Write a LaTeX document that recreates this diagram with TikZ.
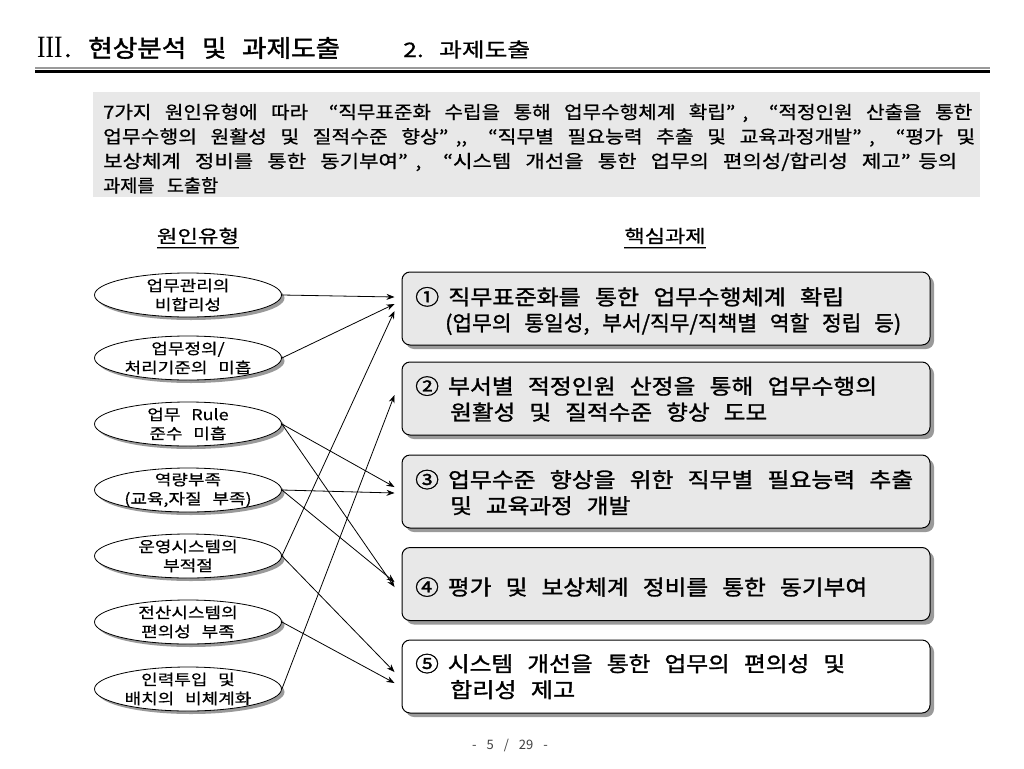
\documentclass[tikz,border=0pt]{standalone}
\usepackage{fontspec}
\setmainfont{Noto Sans CJK KR}
\newfontfamily\krell{Noto Sans CJK KR}[FakeBold=0.5]
\newfontfamily\krintro{Noto Sans CJK KR}[FakeBold=0.7]
\newfontfamily\krboxf{Noto Sans CJK KR}[FakeBold=1.3]
\newfontfamily\krsub{Noto Sans CJK KR}[FakeBold=0.8]
\newfontfamily\krhead{Noto Sans CJK KR}[FakeBold=1.5]
\newfontfamily\krheadb{Noto Sans CJK KR}[FakeBold=0.6]
\newfontfamily\krfoot{Noto Sans CJK KR}
\newfontfamily\romanf{Liberation Serif}
\usetikzlibrary{shapes.geometric,shadows,arrows.meta}
\definecolor{introgray}{HTML}{E8E8E8}
\definecolor{boxgray}{HTML}{E8E8E8}
\definecolor{shadowgray}{HTML}{9A9A9A}
% a line of text stretched horizontally to a given width, height kept
\newcommand\fitw[2]{\resizebox{#1}{\height}{#2}}
\newcommand\natl[2]{\scalebox{#1}[1]{#2}}
\newcommand\oq{\makebox[15pt][r]{“}}
\newcommand\cq{\makebox[15pt][l]{”}}
\newcommand\cnum[1]{\makebox[29pt][l]{#1}}
\newcommand\fntell{\krell\fontsize{15}{19}\selectfont\spaceskip 9pt\relax}
\newcommand\fntintro{\krintro\fontsize{18}{24.5}\selectfont\spaceskip 12pt\relax}
\newcommand\fntbox{\krboxf\fontsize{21}{26}\selectfont\spaceskip 12.5pt\relax}
\newcommand\fntsub{\krsub\fontsize{18}{20}\selectfont}
\newcommand\fnthead{\krhead\fontsize{24}{28}\selectfont\spaceskip 14pt\relax}
\newcommand\fntheadb{\krheadb\fontsize{20}{24}\selectfont\spaceskip 11pt\relax}
\newcommand\fntfoot{\krfoot\fontsize{13}{15}\selectfont\spaceskip 10pt\relax}
\tikzset{
  causeshape/.style={ellipse, draw=black, line width=0.8pt, fill=white, minimum width=187pt, minimum height=44pt, inner sep=0pt,
    drop shadow={shadow xshift=3pt, shadow yshift=-3pt, fill=shadowgray, opacity=1}},
  causetext/.style={align=center, inner sep=0pt, font=\fntell},
  taskbox/.style={rectangle, rounded corners=8pt, draw=black, line width=1pt, fill=boxgray, minimum width=528pt, minimum height=73pt, inner sep=0pt,
    drop shadow={shadow xshift=4pt, shadow yshift=-4pt, fill=shadowgray, opacity=1}},
  tasktext/.style={anchor=west, align=left, inner sep=0pt, font=\fntbox},
  conn/.style={draw=black, line width=0.8pt, -{Stealth[length=8pt,width=6pt]}},
  sub/.style={inner sep=0pt, font=\fntsub},
}
\begin{document}
\begin{tikzpicture}[x=1pt,y=-1pt]
\useasboundingbox[fill=white] (0,0) rectangle (1024,768);
% header
\node[anchor=base west, inner sep=0pt, font=\fnthead] (h1) at (37,57)
  {\makebox[51pt][l]{\scalebox{0.82}[1]{\romanf\fontsize{31}{31}\selectfont III}\kern2pt.}\fitw{252pt}{현상분석 및 과제도출}};
\node[anchor=base west, inner sep=0pt, font=\fntheadb] (h2) at (403,57) {\fitw{127pt}{2. 과제도출}};
\draw[shadowgray, line width=1.5pt] (35,68) -- (990,68);
\draw[black, line width=3.5pt] (35,71.5) -- (990,71.5);
% intro box
\node[anchor=north west, fill=introgray, minimum width=887pt, minimum height=105pt, inner sep=0pt] (intro) at (93,92) {};
\node[anchor=north west, align=left, inner sep=0pt, font=\fntintro] (introtext) at (103,103.5)
 {\fitw{869pt}{7가지 원인유형에 따라 \oq 직무표준화 수립을 통해 업무수행체계 확립\cq, \oq 적정인원 산출을 통한}\\
  \fitw{872pt}{업무수행의 원활성 및 질적수준 향상\cq,, \oq 직무별 필요능력 추출 및 교육과정개발\cq, \oq 평가 및}\\
  \fitw{854pt}{보상체계 정비를 통한 동기부여\cq, \oq 시스템 개선을 통한 업무의 편의성/합리성 제고\cq 등의}\\
  \fitw{115pt}{과제를 도출함}};
% subheadings
\node[sub] (hc) at (198,236) {\fitw{82pt}{원인유형}};
\node[sub] (ht) at (665,236) {\fitw{81pt}{핵심과제}};
\draw[shadowgray, line width=1pt] ([yshift=-12.5pt]hc.west) -- ([yshift=-12.5pt]hc.east);
\draw[black, line width=1pt] ([yshift=-11.5pt]hc.west) -- ([yshift=-11.5pt]hc.east);
\draw[shadowgray, line width=1pt] ([yshift=-12.5pt]ht.west) -- ([yshift=-12.5pt]ht.east);
\draw[black, line width=1pt] ([yshift=-11.5pt]ht.west) -- ([yshift=-11.5pt]ht.east);
% causes
\node[causeshape] (e1) at (188,295) {};
\node[causetext] (e1t) at (e1) {\natl{1.2}{업무관리의}\\\natl{1.2}{비합리성}};
\node[causeshape] (e2) at (188,358) {};
\node[causetext] (e2t) at (e2) {\natl{1.2}{업무정의/}\\\natl{1.2}{처리기준의 미흡}};
\node[causeshape] (e3) at (188,424) {};
\node[causetext] (e3t) at (e3) {\natl{1.2}{업무 Rule}\\\natl{1.2}{준수 미흡}};
\node[causeshape] (e4) at (188,490) {};
\node[causetext] (e4t) at (e4) {\natl{1.2}{역량부족}\\\natl{1.2}{(교육,자질 부족)}};
\node[causeshape] (e5) at (188,556) {};
\node[causetext] (e5t) at (e5) {\natl{1.2}{운영시스템의}\\\natl{1.2}{부적절}};
\node[causeshape] (e6) at (188,622) {};
\node[causetext] (e6t) at (e6) {\natl{1.2}{전산시스템의}\\\natl{1.2}{편의성 부족}};
\node[causeshape] (e7) at (188,689) {};
\node[causetext] (e7t) at (e7) {\natl{1.2}{인력투입 및}\\\natl{1.2}{배치의 비체계화}};
% tasks
\node[taskbox] (b1) at (666,308.5) {};
\node[tasktext] (b1t) at (415,311)
  {\fitw{429pt}{\cnum{①}직무표준화를 통한 업무수행체계 확립}\\
   \hspace*{30pt}\fitw{456pt}{(업무의 통일성, 부서/직무/직책별 역할 정립 등)}};
\node[taskbox] (b2) at (666,398.5) {};
\node[tasktext] (b2t) at (415,399)
  {\fitw{462pt}{\cnum{②}부서별 적정인원 산정을 통해 업무수행의}\\
   \hspace*{35pt}\fitw{317pt}{원활성 및 질적수준 향상 도모}};
\node[taskbox] (b3) at (666,491.5) {};
\node[tasktext] (b3t) at (415,492.5)
  {\fitw{498pt}{\cnum{③}업무수준 향상을 위한 직무별 필요능력 추출}\\
   \hspace*{35pt}\fitw{180pt}{및 교육과정 개발}};
\node[taskbox] (b4) at (666,584) {};
\node[tasktext] (b4t) at (415,587)
  {\fitw{452pt}{\cnum{④}평가 및 보상체계 정비를 통한 동기부여}};
\node[taskbox, fill=white] (b5) at (666,676.5) {};
\node[tasktext] (b5t) at (415,676.5)
  {\fitw{430pt}{\cnum{⑤}시스템 개선을 통한 업무의 편의성 및}\\
   \hspace*{35pt}\fitw{125pt}{합리성 제고}};
% connectors
\draw[conn] (e1.east) -- ([xshift=-7pt,yshift=11.5pt]b1.west);
\draw[conn] (e2.east) -- ([xshift=-7pt,yshift=4.5pt]b1.west);
\draw[conn] (e5.east) -- ([xshift=-7pt,yshift=-2.5pt]b1.west);
\draw[conn] (e7.east) -- ([xshift=-7pt,yshift=3.5pt]b2.west);
\draw[conn] (e3.east) -- ([xshift=-7pt,yshift=4.5pt]b3.west);
\draw[conn] (e4.east) -- ([xshift=-7pt,yshift=-1.5pt]b3.west);
\draw[conn] (e4.east) -- ([xshift=-7pt,yshift=2pt]b4.west);
\draw[conn] (e3.east) -- ([xshift=-7pt,yshift=-3pt]b4.west);
\draw[conn] (e5.east) -- ([xshift=-7pt,yshift=4.5pt]b5.west);
\draw[conn] (e6.east) -- ([xshift=-7pt,yshift=-6.5pt]b5.west);
% footer
\node[inner sep=0pt, text=black!75, font=\fntfoot] (pg) at (510,745) {- 5 / 29 -};
\end{tikzpicture}
\end{document}
